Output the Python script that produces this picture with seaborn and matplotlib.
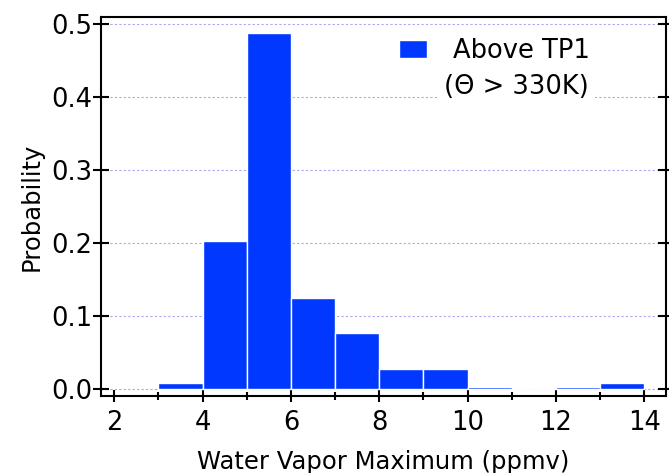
import matplotlib
matplotlib.use("Agg")
import matplotlib.pyplot as plt
import seaborn as sns
from matplotlib.ticker import MultipleLocator

# histogram of water vapor maxima above TP1
bin_edges = [3, 4, 5, 6, 7, 8, 9, 10, 11, 12, 13, 14]
bin_centers = [3.5, 4.5, 5.5, 6.5, 7.5, 8.5, 9.5, 10.5, 11.5, 12.5, 13.5]
probability = [0.008, 0.203, 0.487, 0.124, 0.076, 0.027, 0.027, 0.003, 0.0, 0.003, 0.008]
y_ticks = [0.0, 0.1, 0.2, 0.3, 0.4, 0.5]
x_ticks = [2, 4, 6, 8, 10, 12, 14]

sns.set_style("white")
plt.rcParams["font.family"] = ["DejaVu Sans"]
plt.rcParams["text.color"] = "black"
plt.rcParams["axes.labelcolor"] = "black"
plt.rcParams["xtick.color"] = "black"
plt.rcParams["ytick.color"] = "black"

fig, ax = plt.subplots(figsize=(6.69, 4.73), dpi=100)
fig.subplots_adjust(left=0.151, right=0.996, top=0.964, bottom=0.163)

sns.histplot(x=bin_centers, weights=probability, bins=bin_edges, stat="count",
             color="#0038ff", alpha=1, edgecolor="white", linewidth=1.0,
             label="Above TP1", ax=ax, zorder=2)

ax.set_xlim(1.7, 14.5)
ax.set_ylim(-0.0095, 0.5095)
ax.set_xticks(x_ticks)
ax.xaxis.set_minor_locator(MultipleLocator(1))
ax.set_yticks(y_ticks)
ax.set_yticklabels([f"{v:.1f}" for v in y_ticks])

ax.yaxis.grid(True, color="#a8a8f0", linestyle=(0, (2, 2)), linewidth=0.8, zorder=0)
ax.set_axisbelow(True)

for s in ax.spines.values():
    s.set_linewidth(1.5)
    s.set_color("black")

ax.tick_params(axis="y", which="major", direction="inout", length=11, width=1.5,
               left=True, right=True, labelsize=18.5, pad=1)
ax.tick_params(axis="x", which="major", direction="inout", length=8, width=1.5,
               bottom=True, labelsize=18.5, pad=6)
ax.tick_params(axis="x", which="minor", direction="inout", length=6, width=1.5,
               bottom=True)

ax.set_xlabel("Water Vapor Maximum (ppmv)", fontsize=17.5, labelpad=10)
ax.set_ylabel("Probability", fontsize=17.5, labelpad=5)

leg = ax.legend(loc="upper left", bbox_to_anchor=(0.515, 0.962), frameon=True,
                fontsize=18.5, handlelength=1.1, handleheight=0.7, handletextpad=1.0,
                borderaxespad=0, borderpad=0.25)
leg.get_frame().set_facecolor("white")
leg.get_frame().set_edgecolor("none")
leg.get_frame().set_alpha(1)
ax.text(0.607, 0.815, "(\u0398 > 330K)", transform=ax.transAxes, fontsize=18.5,
        ha="left", va="center",
        bbox=dict(facecolor="white", edgecolor="none", pad=4))

fig.savefig("out.png", dpi=100)
